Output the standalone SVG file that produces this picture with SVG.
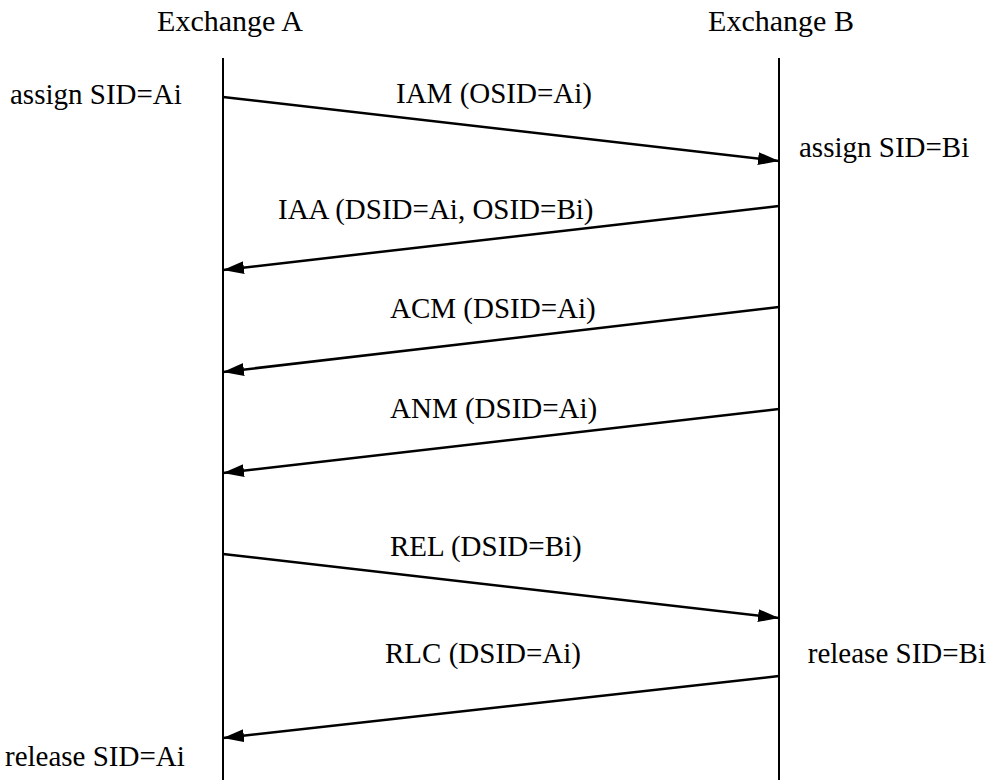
<svg xmlns="http://www.w3.org/2000/svg" width="987" height="780" viewBox="0 0 987 780">
<style>
  text { font-family: "Liberation Serif", "Times New Roman", serif; font-size: 29px; fill: #000; }
  .head { font-size: 30px; }
  .life { stroke: #000; stroke-width: 2; fill: none; }
  .msg { stroke: #000; stroke-width: 2.5; fill: none; marker-end: url(#arrow); }
</style>
<defs>
  <marker id="arrow" markerUnits="userSpaceOnUse" markerWidth="24" markerHeight="16" refX="21" refY="6.5" orient="auto">
    <path d="M0,0 L21,6.5 L0,13 Z" fill="#000"/>
  </marker>
</defs>
<rect width="987" height="780" fill="#fff"/>
<g id="exchangeA">
  <text class="head" x="230" y="31" text-anchor="middle">Exchange A</text>
  <line class="life" x1="223" y1="58" x2="223" y2="780"/>
  <text x="10" y="104">assign SID=Ai</text>
  <text x="5" y="766">release SID=Ai</text>
</g>
<g id="exchangeB">
  <text class="head" x="781" y="31" text-anchor="middle">Exchange B</text>
  <line class="life" x1="779" y1="58" x2="779" y2="780"/>
  <text x="799" y="157">assign SID=Bi</text>
  <text x="986" y="663" text-anchor="end">release SID=Bi</text>
</g>
<g id="connectors">
  <line class="msg" x1="223" y1="97" x2="779" y2="161"/>
  <text x="396" y="103">IAM (OSID=Ai)</text>
  <line class="msg" x1="779" y1="206" x2="223" y2="270"/>
  <text x="278" y="219">IAA (DSID=Ai, OSID=Bi)</text>
  <line class="msg" x1="779" y1="307" x2="223" y2="372"/>
  <text x="390" y="318">ACM (DSID=Ai)</text>
  <line class="msg" x1="779" y1="409" x2="223" y2="473"/>
  <text x="390" y="418">ANM (DSID=Ai)</text>
  <line class="msg" x1="223" y1="554" x2="779" y2="618"/>
  <text x="390" y="556">REL (DSID=Bi)</text>
  <line class="msg" x1="779" y1="676" x2="223" y2="738"/>
  <text x="385" y="663">RLC (DSID=Ai)</text>
</g>
</svg>
